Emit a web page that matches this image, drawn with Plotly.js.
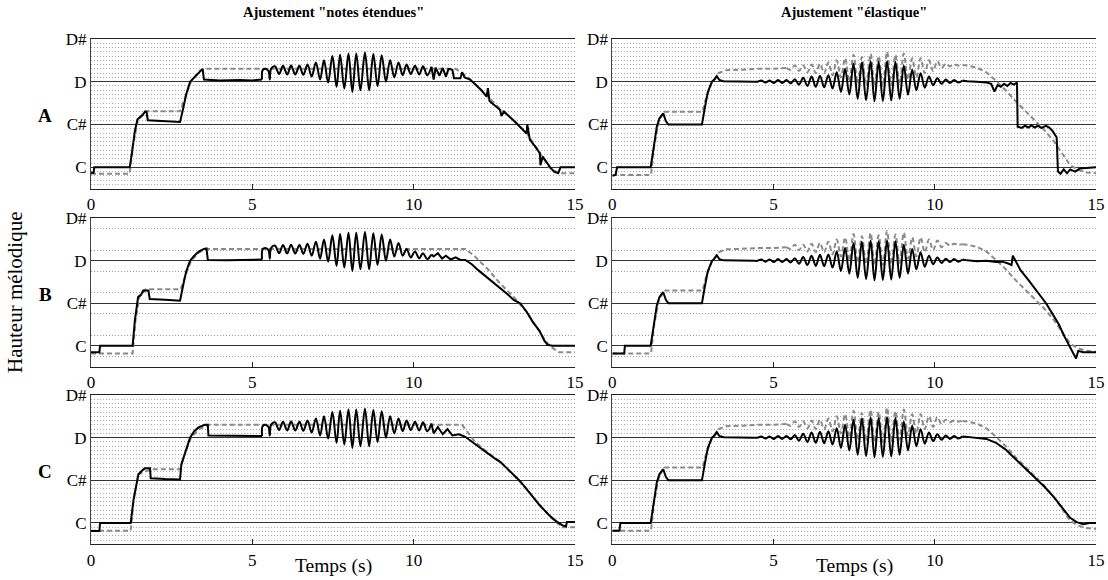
<!DOCTYPE html>
<html><head><meta charset="utf-8">
<script src="https://cdn.plot.ly/plotly-3.0.1.min.js"></script>
<style>html,body{margin:0;padding:0;background:#fff}#chart{width:1108px;height:580px}</style>
</head><body><div id="chart"></div>
<script>
// pitch in semitones: C=0, C#=1, D=2, D#=3 ; time in seconds
const noteTicks = [0, 1, 2, 3];
const noteLabels = ['C', 'C#', 'D', 'D#'];
const timeTicks = [0, 5, 10, 15];
const timeLabels = ['0', '5', '10', '15'];
const columnTitles = ['Ajustement "notes étendues"', 'Ajustement "élastique"'];
const rowLabels = ['A', 'B', 'C'];
const xTitle = 'Temps (s)';
const yTitle = 'Hauteur mélodique';

// ---------- left column (notes étendues), black adjusted pitch ----------
const headAL_t = [0, 0.08, 0.1, 1.2, 1.28, 1.36, 1.44, 1.52, 1.6, 1.67, 1.72, 1.76, 2.2, 2.76, 2.85, 2.95, 3.07, 3.2, 3.33, 3.46, 3.5, 4.0, 4.6, 5.0, 5.3];
const headAL_v = [-0.13, -0.13, 0.0, 0.0, 0.4, 0.85, 1.12, 1.17, 1.22, 1.3, 1.3, 1.1, 1.08, 1.06, 1.35, 1.7, 2.0, 2.1, 2.2, 2.3, 2.05, 2.03, 2.04, 2.03, 2.05];
const headBL_t = [0, 0.26, 0.28, 1.29, 1.36, 1.46, 1.55, 1.62, 1.78, 1.82, 2.3, 2.76, 2.85, 2.95, 3.07, 3.2, 3.35, 3.5, 3.58, 3.62, 4.2, 4.8, 5.3];
const headBL_v = [-0.15, -0.15, 0.0, 0.0, 0.6, 1.15, 1.2, 1.3, 1.3, 1.1, 1.08, 1.06, 1.4, 1.75, 2.0, 2.12, 2.22, 2.28, 2.29, 2.02, 2.01, 2.02, 2.03];
const headCL_t = [0, 0.26, 0.28, 1.23, 1.32, 1.47, 1.6, 1.67, 1.83, 1.85, 2.3, 2.76, 2.8, 2.95, 3.07, 3.2, 3.33, 3.53, 3.62, 3.64, 4.5, 5.3];
const headCL_v = [-0.19, -0.19, 0.0, 0.0, 0.55, 1.14, 1.24, 1.28, 1.28, 1.05, 1.03, 1.02, 1.37, 1.75, 2.0, 2.15, 2.24, 2.3, 2.3, 2.05, 2.04, 2.04];
const vibL_t = [5.32, 5.4, 5.5, 5.54, 5.58, 5.7, 5.83, 5.95, 6.08, 6.2, 6.33, 6.46, 6.58, 6.71, 6.84, 6.97, 7.1, 7.22, 7.35, 7.48, 7.61, 7.72, 7.85, 7.98, 8.1, 8.22, 8.35, 8.49, 8.62, 8.75, 8.88, 9.01, 9.14, 9.27, 9.4];
const vibL_v = [2.27, 2.3, 2.25, 2.05, 2.3, 2.36, 2.18, 2.37, 2.17, 2.38, 2.17, 2.37, 2.16, 2.4, 2.12, 2.45, 2.05, 2.5, 1.98, 2.6, 1.88, 2.63, 1.84, 2.66, 1.76, 2.66, 1.8, 2.68, 1.8, 2.65, 1.9, 2.62, 2.0, 2.5, 2.1];
const vibEndAL_t = [9.53, 9.66, 9.78, 9.91, 10.04, 10.17, 10.29, 10.42, 10.55];
const vibEndAL_v = [2.45, 2.15, 2.4, 2.18, 2.37, 2.17, 2.36, 2.15, 2.35];
const vibEndBL_t = [9.53, 9.66, 9.78, 9.91, 10.04, 10.17, 10.29, 10.42, 10.55];
const vibEndBL_v = [2.42, 2.12, 2.28, 2.08, 2.22, 2.06, 2.18, 2.04, 2.15];
const vibEndCL_t = [9.53, 9.66, 9.78, 9.91, 10.04, 10.17, 10.29, 10.42, 10.55];
const vibEndCL_v = [2.45, 2.15, 2.4, 2.18, 2.37, 2.17, 2.36, 2.15, 2.33];
const tailAL_t = [10.62, 10.68, 10.8, 10.9, 11.0, 11.08, 11.2, 11.25, 11.45, 11.5, 11.58, 11.75, 11.9, 12.1, 12.26, 12.3, 12.35, 12.5, 12.68, 12.72, 12.8, 13.09, 13.3, 13.5, 13.52, 13.6, 13.75, 13.91, 13.93, 14.0, 14.22, 14.35, 14.48, 14.55, 15];
const tailAL_v = [2.05, 2.33, 2.14, 2.32, 2.12, 2.3, 2.28, 2.08, 2.08, 2.22, 2.1, 2.05, 1.95, 1.8, 1.65, 1.85, 1.55, 1.45, 1.34, 1.2, 1.3, 1.1, 0.95, 0.79, 1.0, 0.65, 0.5, 0.33, 0.05, 0.25, 0.01, -0.1, -0.14, 0.0, 0.0];
const tailBL_t = [10.62, 10.75, 10.88, 11.0, 11.15, 11.3, 11.45, 11.6, 11.8, 12.0, 12.3, 12.6, 12.9, 13.1, 13.3, 13.5, 13.7, 13.9, 14.05, 14.15, 14.3, 15];
const tailBL_v = [2.1, 2.18, 2.05, 2.12, 2.03, 2.08, 2.02, 2.02, 1.92, 1.78, 1.6, 1.42, 1.22, 1.08, 1.0, 0.8, 0.55, 0.35, 0.12, 0.02, 0.0, 0.0];
const tailCL_t = [10.62, 10.75, 10.9, 11.05, 11.2, 11.4, 11.6, 11.9, 12.2, 12.5, 12.7, 13.0, 13.3, 13.6, 13.9, 14.2, 14.4, 14.6, 14.72, 14.75, 15];
const tailCL_v = [2.1, 2.25, 2.08, 2.2, 2.05, 2.08, 2.02, 1.85, 1.68, 1.52, 1.42, 1.2, 0.98, 0.7, 0.42, 0.18, 0.05, -0.05, -0.08, 0.02, 0.02];

// ---------- left column, gray dashed ----------
const dashAL_t = [0, 1.2, 1.3, 1.45, 1.68, 2.76, 2.9, 3.1, 3.35, 3.5, 11.3, 11.6, 11.9, 12.3, 12.7, 13.1, 13.5, 13.9, 14.2, 14.5, 15];
const dashAL_v = [-0.15, -0.15, 0.5, 1.1, 1.31, 1.31, 1.6, 2.0, 2.25, 2.3, 2.3, 2.15, 1.95, 1.65, 1.35, 1.1, 0.8, 0.35, 0.0, -0.14, -0.14];
const dashBL_t = [0, 1.29, 1.38, 1.5, 1.7, 2.78, 2.9, 3.1, 3.35, 3.6, 11.6, 11.9, 12.3, 12.7, 13.1, 13.5, 13.8, 14.1, 14.3, 14.5, 15];
const dashBL_v = [-0.18, -0.18, 0.6, 1.15, 1.33, 1.33, 1.6, 2.0, 2.2, 2.28, 2.28, 2.1, 1.8, 1.45, 1.15, 0.8, 0.45, 0.1, -0.05, -0.15, -0.15];
const dashCL_t = [0, 1.23, 1.32, 1.47, 1.85, 2.76, 2.9, 3.1, 3.35, 3.64, 11.5, 11.9, 12.3, 12.7, 13.1, 13.5, 13.9, 14.3, 14.6, 15];
const dashCL_v = [-0.18, -0.18, 0.55, 1.14, 1.26, 1.26, 1.6, 2.0, 2.2, 2.3, 2.3, 1.9, 1.65, 1.42, 1.12, 0.8, 0.42, 0.1, -0.1, -0.1];

// ---------- right column (élastique), black adjusted pitch ----------
const headAR_t = [0, 0.1, 0.15, 1.19, 1.28, 1.38, 1.46, 1.58, 1.66, 1.74, 2.2, 2.78, 2.86, 2.96, 3.09, 3.17, 3.24, 3.32, 3.45, 4.4];
const headAR_v = [-0.2, -0.18, 0.0, 0.0, 0.45, 0.95, 1.14, 1.26, 1.08, 1.0, 1.0, 1.0, 1.35, 1.75, 2.0, 2.05, 2.13, 2.04, 2.01, 2.0];
const headBR_t = [0, 0.37, 0.39, 1.19, 1.28, 1.38, 1.46, 1.58, 1.66, 1.74, 2.2, 2.78, 2.86, 2.96, 3.09, 3.17, 3.24, 3.32, 3.45, 4.4];
const headBR_v = [-0.18, -0.18, 0.0, 0.0, 0.45, 0.95, 1.14, 1.26, 1.08, 1.0, 1.0, 1.0, 1.35, 1.75, 2.0, 2.05, 2.13, 2.04, 2.01, 2.0];
const headCR_t = [0, 0.22, 0.25, 1.19, 1.28, 1.38, 1.46, 1.58, 1.66, 1.74, 2.2, 2.78, 2.86, 2.96, 3.09, 3.17, 3.24, 3.32, 3.45, 4.4];
const headCR_v = [-0.18, -0.18, 0.0, 0.0, 0.45, 0.95, 1.14, 1.26, 1.08, 1.0, 1.0, 1.0, 1.35, 1.75, 2.0, 2.05, 2.13, 2.04, 2.01, 2.0];
const vibR_t = [4.5, 4.62, 4.75, 4.88, 5.01, 5.14, 5.27, 5.4, 5.53, 5.66, 5.79, 5.92, 6.05, 6.18, 6.31, 6.44, 6.57, 6.7, 6.83, 6.96, 7.09, 7.22, 7.35, 7.48, 7.61, 7.74, 7.87, 8.01, 8.13, 8.26, 8.39, 8.52, 8.65, 8.78, 8.91, 9.04, 9.17, 9.3, 9.43, 9.56, 9.69, 9.82, 9.95, 10.08, 10.21, 10.34, 10.47, 10.6, 10.73, 10.86];
const vibR_v = [2.0, 2.03, 1.98, 2.03, 1.97, 2.04, 1.97, 2.04, 1.96, 2.06, 1.93, 2.09, 1.9, 2.12, 1.88, 2.14, 1.87, 2.15, 1.84, 2.22, 1.76, 2.3, 1.7, 2.42, 1.6, 2.45, 1.57, 2.47, 1.54, 2.46, 1.55, 2.48, 1.56, 2.46, 1.6, 2.38, 1.7, 2.28, 1.8, 2.2, 1.86, 2.12, 1.92, 2.08, 1.95, 2.05, 1.97, 2.04, 1.98, 2.03];
const tailAR_t = [11.0, 11.3, 11.6, 11.75, 11.85, 11.95, 12.05, 12.15, 12.25, 12.35, 12.45, 12.55, 12.57, 12.7, 12.8, 12.9, 13.0, 13.1, 13.2, 13.3, 13.45, 13.55, 13.65, 13.78, 13.82, 13.9, 14.0, 14.1, 14.2, 14.35, 14.5, 14.6, 15.0];
const tailAR_v = [2.01, 2.0, 1.98, 1.95, 1.77, 1.92, 1.88, 1.95, 1.9, 1.97, 1.93, 1.98, 0.95, 0.92, 0.97, 0.93, 0.98, 0.93, 0.97, 0.92, 0.97, 0.93, 0.85, 0.7, -0.1, -0.15, -0.05, -0.14, -0.05, -0.1, -0.03, -0.02, 0.0];
const tailBR_t = [11.0, 11.3, 11.6, 11.9, 12.1, 12.3, 12.38, 12.42, 12.5, 12.66, 12.9, 13.2, 13.45, 13.65, 13.85, 14.0, 14.15, 14.3, 14.38, 14.45, 14.6, 15];
const tailBR_v = [2.01, 1.99, 2.0, 1.97, 1.98, 1.93, 1.9, 2.12, 2.0, 1.78, 1.55, 1.25, 1.0, 0.75, 0.5, 0.25, 0.02, -0.2, -0.3, -0.12, -0.15, -0.15];
const tailCR_t = [11.0, 11.3, 11.6, 11.9, 12.2, 12.5, 12.8, 13.1, 13.4, 13.7, 14.0, 14.2, 14.4, 14.6, 14.8, 15];
const tailCR_v = [2.02, 2.0, 1.97, 1.88, 1.72, 1.5, 1.28, 1.05, 0.85, 0.6, 0.3, 0.12, 0.02, -0.03, 0.0, 0.0];

// ---------- right column, gray dashed original pitch ----------
const headG_t = [0, 1.2, 1.3, 1.45, 1.6, 2.8, 2.9, 3.1, 3.3, 3.52, 4.0, 4.5, 5.0, 5.4];
const headG_v = [-0.18, -0.18, 0.5, 1.1, 1.3, 1.3, 1.6, 2.0, 2.2, 2.27, 2.28, 2.3, 2.3, 2.32];
const vibG_t = [5.53, 5.66, 5.79, 5.92, 6.05, 6.18, 6.31, 6.44, 6.57, 6.7, 6.83, 6.96, 7.09, 7.22, 7.35, 7.48, 7.61, 7.74, 7.87, 8.01, 8.13, 8.26, 8.39, 8.52, 8.65, 8.78, 8.91, 9.04, 9.17, 9.3, 9.43, 9.56, 9.69, 9.82, 9.95, 10.08, 10.21, 10.34, 10.47, 10.6, 10.73, 10.86];
const vibG_v = [2.28, 2.38, 2.25, 2.38, 2.22, 2.4, 2.2, 2.42, 2.2, 2.45, 2.15, 2.5, 2.1, 2.55, 2.0, 2.63, 1.95, 2.58, 1.92, 2.65, 1.9, 2.6, 1.9, 2.7, 1.92, 2.62, 1.95, 2.66, 2.05, 2.55, 2.1, 2.55, 2.2, 2.5, 2.25, 2.48, 2.32, 2.42, 2.36, 2.4, 2.38, 2.39];
const tailG_t = [11.0, 11.3, 11.6, 11.9, 12.2, 12.5, 12.8, 13.1, 13.4, 13.7, 14.0, 14.2, 14.45, 14.7, 15];
const tailG_v = [2.38, 2.33, 2.22, 2.02, 1.8, 1.55, 1.32, 1.1, 0.87, 0.6, 0.27, 0.05, -0.06, -0.12, -0.14];

// ---------- assemble panels: list of [t, v, smooth] segments ----------
const panels = [
  {gray: [[dashAL_t, dashAL_v, false]],
   black: [[headAL_t, headAL_v, false], [vibL_t.concat(vibEndAL_t), vibL_v.concat(vibEndAL_v), true], [tailAL_t, tailAL_v, false]]},
  {gray: [[headG_t, headG_v, false], [vibG_t, vibG_v, true], [tailG_t, tailG_v, false]],
   black: [[headAR_t, headAR_v, false], [vibR_t, vibR_v, true], [tailAR_t, tailAR_v, false]]},
  {gray: [[dashBL_t, dashBL_v, false]],
   black: [[headBL_t, headBL_v, false], [vibL_t.concat(vibEndBL_t), vibL_v.concat(vibEndBL_v), true], [tailBL_t, tailBL_v, false]]},
  {gray: [[headG_t, headG_v, false], [vibG_t, vibG_v, true], [tailG_t, tailG_v, false]],
   black: [[headBR_t, headBR_v, false], [vibR_t, vibR_v, true], [tailBR_t, tailBR_v, false]]},
  {gray: [[dashCL_t, dashCL_v, false]],
   black: [[headCL_t, headCL_v, false], [vibL_t.concat(vibEndCL_t), vibL_v.concat(vibEndCL_v), true], [tailCL_t, tailCL_v, false]]},
  {gray: [[headG_t, headG_v, false], [vibG_t, vibG_v, true], [tailG_t, tailG_v, false]],
   black: [[headCR_t, headCR_v, false], [vibR_t, vibR_v, true], [tailCR_t, tailCR_v, false]]}
];

const W = 1108, H = 580;
const colX = [[91, 575], [612.3, 1096]];
const rowY = [[38.9, 188.7], [218.3, 367], [395, 544.3]];
const FONT = 'Liberation Serif, Times New Roman, serif';

const data = [];
const layout = {
  width: W, height: H, margin: {l: 0, r: 0, t: 0, b: 0},
  paper_bgcolor: '#fff', plot_bgcolor: 'rgba(0,0,0,0)', showlegend: false,
  font: {family: FONT, color: '#000', size: 17},
  annotations: [], shapes: []
};

function addSegments(segs, xa, ya, style) {
  segs.forEach((s, k) => {
    let t = s[0].slice(), v = s[1].slice();
    if (k > 0) { // join to previous segment
      const prev = segs[k - 1];
      t.unshift(prev[0][prev[0].length - 1]);
      v.unshift(prev[1][prev[1].length - 1]);
    }
    data.push({x: t, y: v, xaxis: xa, yaxis: ya, mode: 'lines', hoverinfo: 'skip',
      line: Object.assign({}, style, s[2] ? {shape: 'spline', smoothing: 1} : {shape: 'linear'})});
  });
}

panels.forEach((p, i) => {
  const r = Math.floor(i / 2), c = i % 2;
  const n = i + 1, sx = n === 1 ? '' : n;
  const xa = 'x' + sx, ya = 'y' + sx;
  addSegments(p.gray, xa, ya, {color: '#8a8a8a', width: 2, dash: '5px,3px'});
  addSegments(p.black, xa, ya, {color: '#000', width: 2});
  layout['xaxis' + sx] = {
    domain: [colX[c][0] / W, colX[c][1] / W], anchor: ya, range: [0, 15],
    tickmode: 'array', tickvals: timeTicks, ticktext: timeLabels,
    ticks: 'inside', ticklen: 5, tickcolor: '#222', tickwidth: 1,
    showline: true, linecolor: '#222', linewidth: 1, mirror: true,
    showgrid: false, zeroline: false, fixedrange: true,
    tickfont: {family: FONT, size: 17, color: '#000'}
  };
  const minor = r === 1
    ? {tickmode: 'linear', tick0: 0.25, dtick: 0.5, showgrid: true, gridcolor: '#9a9a9a', gridwidth: 1, griddash: '1px,2px', ticks: ''}
    : {tickmode: 'linear', tick0: 0, dtick: 0.1, showgrid: true, gridcolor: '#a8a8a8', gridwidth: 1, griddash: '1px,2px', ticks: ''};
  layout['yaxis' + sx] = {
    domain: [1 - rowY[r][1] / H, 1 - rowY[r][0] / H], anchor: xa, range: [-0.5, 3],
    tickmode: 'array', tickvals: noteTicks, ticktext: noteLabels, ticks: '',
    showgrid: true, gridcolor: '#333', gridwidth: 1,
    showline: true, linecolor: '#444', linewidth: 1, zeroline: false, fixedrange: true,
    minor: minor,
    tickfont: {family: FONT, size: 17, color: '#000'}
  };
});

columnTitles.forEach((t, c) => {
  layout.annotations.push({text: '<b>' + t + '</b>', xref: 'paper', yref: 'paper',
    x: (colX[c][0] + colX[c][1]) / 2 / W, y: 1 - 12 / H, xanchor: 'center', yanchor: 'middle',
    showarrow: false, font: {family: FONT, size: 14.5}});
  layout.annotations.push({text: xTitle, xref: 'paper', yref: 'paper',
    x: (colX[c][0] + colX[c][1]) / 2 / W, y: 1 - 566 / H, xanchor: 'center', yanchor: 'middle',
    showarrow: false, font: {family: FONT, size: 19.5}});
});
rowLabels.forEach((t, r) => {
  layout.annotations.push({text: '<b>' + t + '</b>', xref: 'paper', yref: 'paper',
    x: 45 / W, y: 1 - ((rowY[r][0] + rowY[r][1]) / 2 + 2) / H, xanchor: 'center', yanchor: 'middle',
    showarrow: false, font: {family: FONT, size: 19}});
});
layout.annotations.push({text: yTitle, xref: 'paper', yref: 'paper', x: 15 / W, y: 1 - 292 / H,
  xanchor: 'center', yanchor: 'middle', textangle: -90, showarrow: false, font: {family: FONT, size: 21}});

Plotly.newPlot('chart', data, layout, {displayModeBar: false, staticPlot: true});
</script>
</body></html>
